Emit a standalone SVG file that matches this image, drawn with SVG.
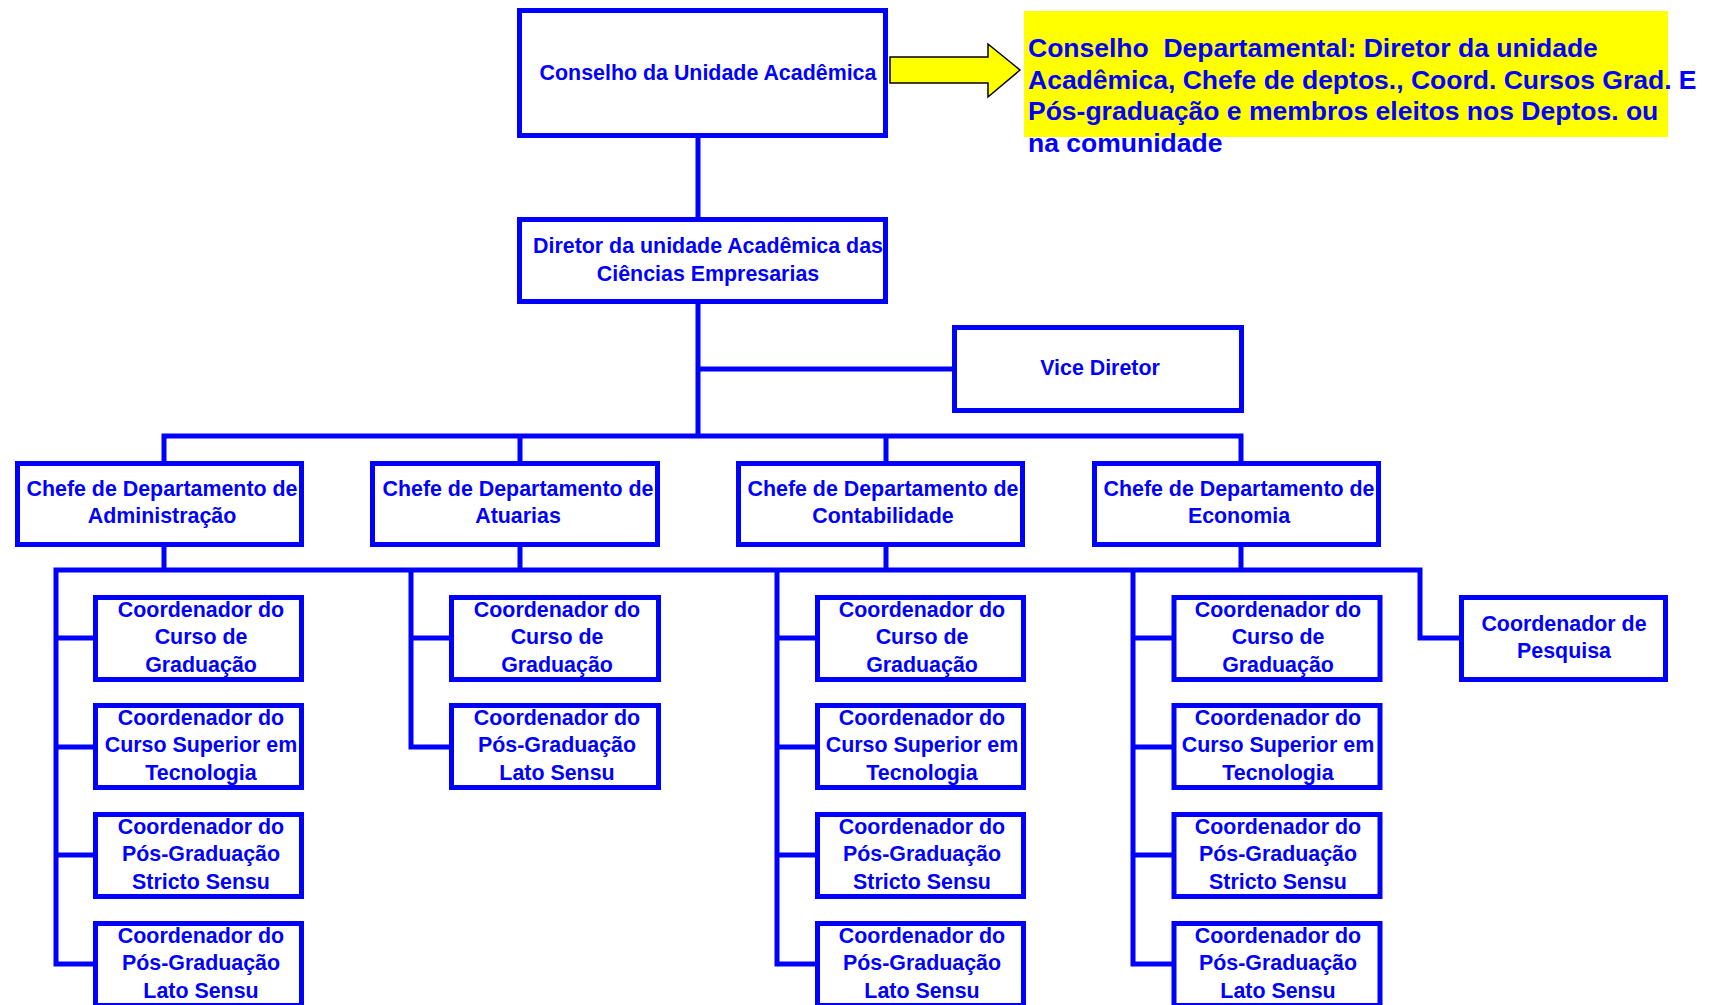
<svg xmlns="http://www.w3.org/2000/svg" width="1717" height="1005" viewBox="0 0 1717 1005">
<style>
.b{fill:#fff;stroke:#0000ff;stroke-width:5}
.t{font-family:"Liberation Sans",Arial,sans-serif;font-weight:bold;font-size:21.4px;fill:#0000ff;text-anchor:middle}
.y{font-family:"Liberation Sans",Arial,sans-serif;font-weight:bold;font-size:26.5px;fill:#0000ff;white-space:pre}
.c{fill:none;stroke:#0000ff;stroke-width:5;stroke-linecap:square}
</style>
<rect width="1717" height="1005" fill="#fff"/>
<g id="connectors">
<path class="c" d="M698 138V218M698 303V436M698 369H953M164 436H1241M164 436V461M520 436V461M886 436V461M1241 436V461M164 547V570M520 547V570M886 547V570M1241 547V570M56 570H1420M56 570V964M411 570V747M777 570V964M1133 570V964M1420 570V638H1458M56 638H93M56 747H93M56 855H93M56 964H93M411 638H449M411 747H449M777 638H815M777 747H815M777 855H815M777 964H815M1133 638H1171M1133 747H1171M1133 855H1171M1133 964H1171"/>
<path d="M890 57H988V44L1020 70L988 97V83H890Z" fill="#ffff00" stroke="#000" stroke-width="1.5"/>
</g>
<g id="conselho-departamental">
<rect x="1024" y="11" width="644" height="126" fill="#ffff00"/>
<text class="y" x="1028" y="57">Conselho  Departamental: Diretor da unidade</text>
<text class="y" x="1028" y="89">Acadêmica, Chefe de deptos., Coord. Cursos Grad. E</text>
<text class="y" x="1028" y="120">Pós-graduação e membros eleitos nos Deptos. ou</text>
<text class="y" x="1028" y="152">na comunidade</text>
</g>
<g id="conselho">
<rect class="b" x="519.5" y="10.5" width="366" height="125"/>
<text class="t" x="708" y="80">Conselho da Unidade Acadêmica</text>
</g>
<g id="diretor">
<rect class="b" x="519.5" y="219.5" width="366" height="82"/>
<text class="t" x="708" y="253">Diretor da unidade Acadêmica das</text>
<text class="t" x="708" y="281">Ciências Empresarias</text>
</g>
<g id="vice">
<rect class="b" x="954.5" y="327.5" width="287" height="83"/>
<text class="t" x="1100" y="375">Vice Diretor</text>
</g>
<g id="dep-adm">
<rect class="b" x="17.5" y="463.5" width="284" height="81"/>
<text class="t" x="162" y="496">Chefe de Departamento de</text>
<text class="t" x="162" y="523">Administração</text>
</g>
<g id="dep-atu">
<rect class="b" x="372.5" y="463.5" width="285" height="81"/>
<text class="t" x="518" y="496">Chefe de Departamento de</text>
<text class="t" x="518" y="523">Atuarias</text>
</g>
<g id="dep-con">
<rect class="b" x="738.5" y="463.5" width="284" height="81"/>
<text class="t" x="883" y="496">Chefe de Departamento de</text>
<text class="t" x="883" y="523">Contabilidade</text>
</g>
<g id="dep-eco">
<rect class="b" x="1094.5" y="463.5" width="284" height="81"/>
<text class="t" x="1239" y="496">Chefe de Departamento de</text>
<text class="t" x="1239" y="523">Economia</text>
</g>
<g id="adm-grad">
<rect class="b" x="95.5" y="597.5" width="206" height="82"/>
<text class="t" x="201" y="617">Coordenador do</text><text class="t" x="201" y="644">Curso de</text><text class="t" x="201" y="672">Graduação</text>
</g>
<g id="adm-tec">
<rect class="b" x="95.5" y="705.5" width="206" height="82"/>
<text class="t" x="201" y="725">Coordenador do</text><text class="t" x="201" y="752">Curso Superior em</text><text class="t" x="201" y="780">Tecnologia</text>
</g>
<g id="adm-ss">
<rect class="b" x="95.5" y="814.5" width="206" height="82"/>
<text class="t" x="201" y="834">Coordenador do</text><text class="t" x="201" y="861">Pós-Graduação</text><text class="t" x="201" y="889">Stricto Sensu</text>
</g>
<g id="adm-ls">
<rect class="b" x="95.5" y="923.5" width="206" height="82"/>
<text class="t" x="201" y="943">Coordenador do</text><text class="t" x="201" y="970">Pós-Graduação</text><text class="t" x="201" y="998">Lato Sensu</text>
</g>
<g id="atu-grad">
<rect class="b" x="451.5" y="597.5" width="207" height="82"/>
<text class="t" x="557" y="617">Coordenador do</text><text class="t" x="557" y="644">Curso de</text><text class="t" x="557" y="672">Graduação</text>
</g>
<g id="atu-ls">
<rect class="b" x="451.5" y="705.5" width="207" height="82"/>
<text class="t" x="557" y="725">Coordenador do</text><text class="t" x="557" y="752">Pós-Graduação</text><text class="t" x="557" y="780">Lato Sensu</text>
</g>
<g id="con-grad">
<rect class="b" x="817.5" y="597.5" width="206" height="82"/>
<text class="t" x="922" y="617">Coordenador do</text><text class="t" x="922" y="644">Curso de</text><text class="t" x="922" y="672">Graduação</text>
</g>
<g id="con-tec">
<rect class="b" x="817.5" y="705.5" width="206" height="82"/>
<text class="t" x="922" y="725">Coordenador do</text><text class="t" x="922" y="752">Curso Superior em</text><text class="t" x="922" y="780">Tecnologia</text>
</g>
<g id="con-ss">
<rect class="b" x="817.5" y="814.5" width="206" height="82"/>
<text class="t" x="922" y="834">Coordenador do</text><text class="t" x="922" y="861">Pós-Graduação</text><text class="t" x="922" y="889">Stricto Sensu</text>
</g>
<g id="con-ls">
<rect class="b" x="817.5" y="923.5" width="206" height="82"/>
<text class="t" x="922" y="943">Coordenador do</text><text class="t" x="922" y="970">Pós-Graduação</text><text class="t" x="922" y="998">Lato Sensu</text>
</g>
<g id="eco-grad">
<rect class="b" x="1174" y="597.5" width="206" height="82"/>
<text class="t" x="1278" y="617">Coordenador do</text><text class="t" x="1278" y="644">Curso de</text><text class="t" x="1278" y="672">Graduação</text>
</g>
<g id="eco-tec">
<rect class="b" x="1174" y="705.5" width="206" height="82"/>
<text class="t" x="1278" y="725">Coordenador do</text><text class="t" x="1278" y="752">Curso Superior em</text><text class="t" x="1278" y="780">Tecnologia</text>
</g>
<g id="eco-ss">
<rect class="b" x="1174" y="814.5" width="206" height="82"/>
<text class="t" x="1278" y="834">Coordenador do</text><text class="t" x="1278" y="861">Pós-Graduação</text><text class="t" x="1278" y="889">Stricto Sensu</text>
</g>
<g id="eco-ls">
<rect class="b" x="1174" y="923.5" width="206" height="82"/>
<text class="t" x="1278" y="943">Coordenador do</text><text class="t" x="1278" y="970">Pós-Graduação</text><text class="t" x="1278" y="998">Lato Sensu</text>
</g>
<g id="pesquisa">
<rect class="b" x="1461.5" y="597.5" width="204" height="82"/>
<text class="t" x="1564" y="631">Coordenador de</text><text class="t" x="1564" y="658">Pesquisa</text>
</g>
</svg>
